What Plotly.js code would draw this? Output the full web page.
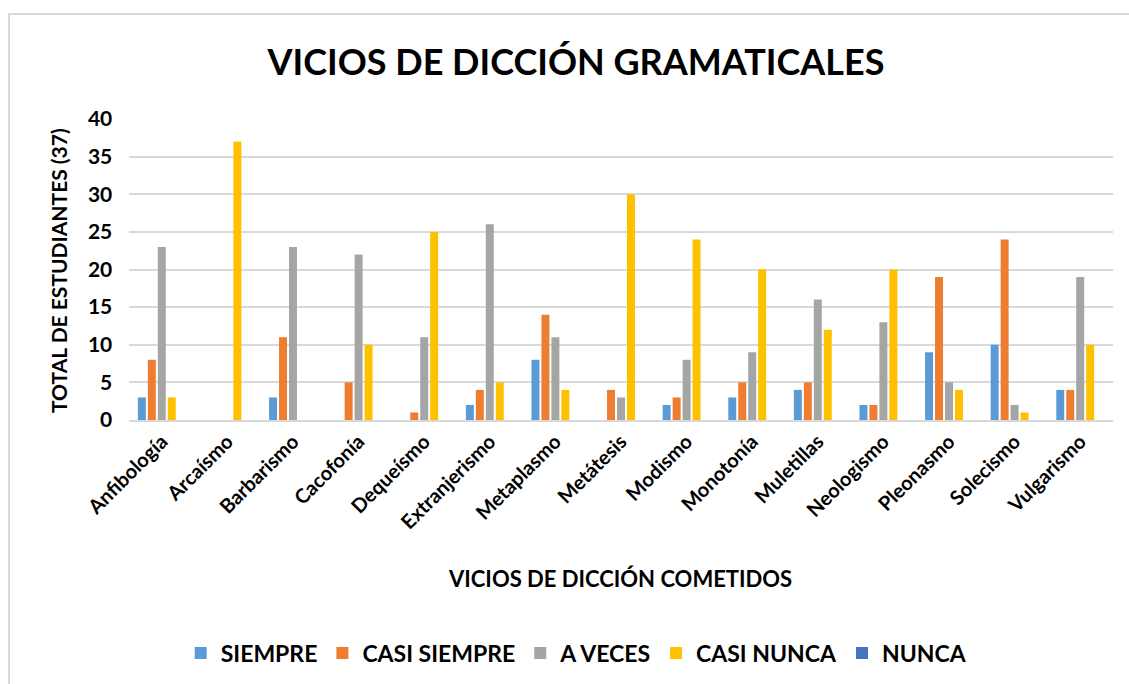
<!DOCTYPE html>
<html>
<head>
<meta charset="utf-8">
<script src="https://cdn.plot.ly/plotly-3.0.1.min.js"></script>
<style>
html,body{margin:0;padding:0;background:#fff;}
#wrap{position:relative;width:1129px;height:684px;overflow:hidden;}
#chart{width:1129px;height:684px;}
#frame{position:absolute;left:8px;top:13px;width:1130px;height:680px;border:2px solid #d9d9d9;pointer-events:none;box-sizing:border-box;}
</style>
</head>
<body>
<div id="wrap"><div id="chart"></div><div id="frame"></div></div>
<script>
const categories = ["Anfibología","Arcaísmo","Barbarismo","Cacofonía","Dequeísmo","Extranjerismo","Metaplasmo","Metátesis","Modismo","Monotonía","Muletillas","Neologismo","Pleonasmo","Solecismo","Vulgarismo"];
const siempre     = [3, 0, 3, 0, 0, 2, 8, 0, 2, 3, 4, 2, 9, 10, 4];
const casiSiempre = [8, 0, 11, 5, 1, 4, 14, 4, 3, 5, 5, 2, 19, 24, 4];
const aVeces      = [23, 0, 23, 22, 11, 26, 11, 3, 8, 9, 16, 13, 5, 2, 19];
const casiNunca   = [3, 37, 0, 10, 25, 5, 4, 30, 24, 20, 12, 20, 4, 1, 10];
const nunca       = [0, 0, 0, 0, 0, 0, 0, 0, 0, 0, 0, 0, 0, 0, 0];
const seriesNames = ["SIEMPRE","CASI SIEMPRE","A VECES","CASI NUNCA","NUNCA"];
const seriesColors = ["#5B9BD5","#ED7D31","#A5A5A5","#FFC000","#4472C4"];
const yTicks = [0,5,10,15,20,25,30,35,40];

const FONT = "Lato, 'Open Sans', sans-serif";
const values = [siempre, casiSiempre, aVeces, casiNunca, nunca];
const data = values.map((v,i)=>({
  type:'bar', name: seriesNames[i], x: categories, y: v,
  marker:{color: seriesColors[i]}
}));

const layout = {
  width:1129, height:684,
  margin:{l:129, r:16, t:119, b:264, autoexpand:false},
  paper_bgcolor:'#fff', plot_bgcolor:'#fff',
  barmode:'group', bargap:0.24, bargroupgap:0.2,
  font:{family:FONT, color:'#000'},
  title:{text:'<b>VICIOS DE DICCIÓN GRAMATICALES</b>', font:{family:FONT, size:36, color:'#000'},
         x:576/1129, xanchor:'center', xref:'container', y:1-62/684, yanchor:'middle', yref:'container'},
  xaxis:{tickangle:-45, tickfont:{family:FONT, size:20, color:'#000', weight:'bold'},
         showgrid:false, showline:true, linecolor:'#d9d9d9', linewidth:2, ticks:'', fixedrange:true,
         automargin:false},
  yaxis:{range:[0,40], tickvals:yTicks, ticktext:yTicks.map(v => v + '\u2003'),
         tickfont:{family:FONT, size:21, color:'#000', weight:'bold'},
         gridcolor:'#d9d9d9', gridwidth:2, zeroline:false, showline:false, ticks:'',
         fixedrange:true, automargin:false},
  showlegend:true,
  legend:{orientation:'h', x:0.455, xanchor:'center', y:(420-653)/301, yanchor:'middle',
          font:{family:FONT, size:23, color:'#000', weight:'bold'}, itemsizing:'constant', traceorder:'normal'},
  annotations:[
    {text:'<b>VICIOS DE DICCIÓN COMETIDOS</b>', xref:'paper', yref:'paper', x:(620-129)/984, y:(420-578)/301,
     xanchor:'center', yanchor:'middle', showarrow:false, font:{family:FONT, size:22, color:'#000'}},
    {text:'<b>TOTAL DE ESTUDIANTES (37)</b>', xref:'paper', yref:'paper', x:(58-129)/984, y:(420-271)/301,
     xanchor:'center', yanchor:'middle', textangle:-90, showarrow:false, font:{family:FONT, size:21, color:'#000'}}
  ]
};
Plotly.newPlot('chart', data, layout, {displayModeBar:false, staticPlot:true});
</script>
</body>
</html>
